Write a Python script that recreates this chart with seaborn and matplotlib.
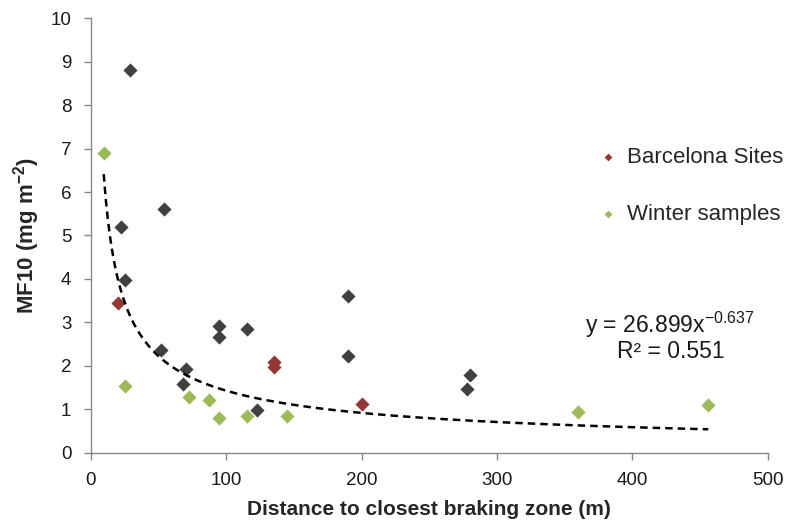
import numpy as np
import pandas as pd
import matplotlib
matplotlib.use("Agg")
import matplotlib.pyplot as plt
import seaborn as sns

# other sites (dark)
other_x = [29, 54, 22, 25, 52, 70, 68, 95, 95, 115, 123, 190, 190, 280, 278]
other_y = [8.8, 5.6, 5.2, 3.98, 2.36, 1.92, 1.58, 2.93, 2.67, 2.85, 0.99, 3.61, 2.22, 1.79, 1.46]
# Barcelona sites
bcn_x = [20, 135, 135, 200]
bcn_y = [3.45, 2.1, 1.98, 1.12]
# winter samples
winter_x = [9.5, 25, 72.5, 87.5, 95, 115, 145, 360, 456]
winter_y = [6.9, 1.54, 1.29, 1.21, 0.8, 0.86, 0.86, 0.93, 1.1]

# power trendline as reported on the chart
coef_a = 26.899
coef_b = -0.637
r2 = 0.551

sns.set_theme(style="white")
plt.rcParams['font.family'] = ['Liberation Sans', 'DejaVu Sans']
plt.rcParams['mathtext.fontset'] = 'custom'
plt.rcParams['mathtext.rm'] = 'Liberation Sans'
plt.rcParams['mathtext.bf'] = 'Liberation Sans:bold'

fig = plt.figure(figsize=(7.9, 5.31), dpi=100)
ax = fig.add_axes([0.115, 0.147, 0.857, 0.819])

other = pd.DataFrame({"x": other_x, "y": other_y})
bcn = pd.DataFrame({"x": bcn_x, "y": bcn_y})
winter = pd.DataFrame({"x": winter_x, "y": winter_y})

mk = dict(marker="D", s=52, linewidth=0, ax=ax)
sns.scatterplot(data=other, x="x", y="y", color="#404040", label="_nolegend_", **mk)
sns.scatterplot(data=bcn, x="x", y="y", color="#953735", label="Barcelona Sites", **mk)
sns.scatterplot(data=winter, x="x", y="y", color="#9BBB59", label="Winter samples", **mk)

all_x = np.array(other_x + bcn_x + winter_x)
fx = np.linspace(all_x.min(), all_x.max(), 300)
ax.plot(fx, coef_a * fx ** coef_b, color="black", lw=1.8, ls=(0, (3, 2)))

ax.text(428, 2.95, "y = 26.899x$^{\\mathregular{-0.637}}$", ha="center", va="center",
        fontsize=16.5, color="#1a1a1a")
ax.text(428, 2.33, "R² = %.3f" % r2, ha="center", va="center", fontsize=16.5, color="#1a1a1a")

ax.set_xlim(0, 500)
ax.set_ylim(0, 10)
ax.set_xticks(range(0, 501, 100))
ax.set_yticks(range(0, 11))
ax.tick_params(axis="both", labelsize=13.5, length=5, width=1, color="#868686",
               labelcolor="#1a1a1a", direction="out", bottom=True, left=True)
ax.tick_params(axis="x", pad=9)
ax.tick_params(axis="y", pad=9)
for side in ["top", "right"]:
    ax.spines[side].set_visible(False)
for side in ["left", "bottom"]:
    ax.spines[side].set_color("#868686")
    ax.spines[side].set_linewidth(1)

ax.set_xlabel("Distance to closest braking zone (m)", fontsize=15, fontweight="bold", labelpad=8)
ax.set_ylabel("MF10 (mg m$^{\\mathbf{-2}}$)", fontsize=16, fontweight="bold", labelpad=6)

leg = ax.legend(loc="upper left", bbox_to_anchor=(0.718, 0.75), frameon=False,
                fontsize=16, markerscale=0.55, handletextpad=0.35, labelspacing=1.63,
                handlelength=1.0)

fig.savefig("out.png", dpi=100)
